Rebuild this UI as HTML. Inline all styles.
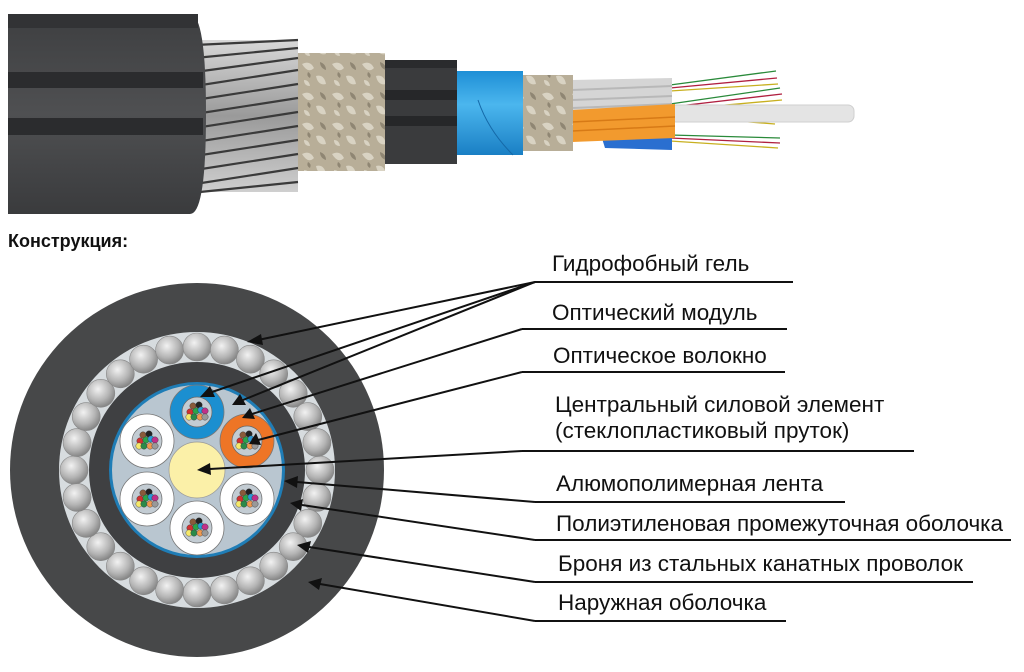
<!DOCTYPE html>
<html><head><meta charset="utf-8"><style>
html,body{margin:0;padding:0;background:#fff;width:1024px;height:672px;overflow:hidden}
svg{display:block}
text{font-family:"Liberation Sans","DejaVu Sans",sans-serif;fill:#111}
</style></head><body>
<svg width="1024" height="672" viewBox="0 0 1024 672" xmlns="http://www.w3.org/2000/svg">
<defs>
<radialGradient id="bead" cx="0.4" cy="0.35" r="0.7">
<stop offset="0" stop-color="#f2f2f2"/><stop offset="0.6" stop-color="#b4b4b4"/><stop offset="1" stop-color="#7d7d7d"/>
</radialGradient>
<linearGradient id="jack" x1="0" y1="0" x2="0" y2="1">
<stop offset="0" stop-color="#3e3f41"/><stop offset="0.5" stop-color="#4f5052"/><stop offset="1" stop-color="#3a3b3d"/>
</linearGradient>
<linearGradient id="wire" x1="0" y1="0" x2="0" y2="1">
<stop offset="0" stop-color="#d8d8d8"/><stop offset="0.5" stop-color="#9a9a9a"/><stop offset="1" stop-color="#cfcfcf"/>
</linearGradient>
<linearGradient id="blu" x1="0" y1="0" x2="0" y2="1">
<stop offset="0" stop-color="#1e8fd6"/><stop offset="0.4" stop-color="#4bb6ee"/><stop offset="1" stop-color="#1a7fc4"/>
</linearGradient>
<pattern id="camo" width="30" height="30" patternUnits="userSpaceOnUse">
<rect width="30" height="30" fill="#b8ae98"/>
<path d="M2 4 q8 -4 12 4 q-6 6 -12 -4z M16 16 q8 -2 10 8 q-8 2 -10 -8z M4 20 q5 0 6 6 q-6 0 -6 -6z" fill="#d9d3c3"/>
<path d="M20 2 q6 2 6 8 q-6 -2 -6 -8z M8 12 q4 2 2 6 q-4 -2 -2 -6z" fill="#8f8673"/>
</pattern>
<g id="fib" stroke="#333" stroke-width="0.4">
<circle cx="-4" cy="-6" r="3.2" fill="#8a5a3a"/><circle cx="2" cy="-7" r="3.2" fill="#222"/>
<circle cx="-7" cy="0" r="3.2" fill="#d23030"/><circle cx="-1" cy="-1" r="3.2" fill="#2aa54a"/>
<circle cx="4" cy="-2" r="3.2" fill="#2a9ad6"/><circle cx="8" cy="-1" r="3.2" fill="#c0308a"/>
<circle cx="-8" cy="5" r="3.2" fill="#f5e86a"/><circle cx="-3" cy="5" r="3.2" fill="#2a8a4a"/>
<circle cx="3" cy="5" r="3.2" fill="#f09a50"/><circle cx="8" cy="5" r="3.2" fill="#999"/>
</g>
</defs>

<!-- TOP CABLE -->
<g stroke-width="1.3" fill="none">
<line x1="670" y1="85" x2="776" y2="71" stroke="#2a8a3a"/>
<line x1="670" y1="88" x2="777" y2="78" stroke="#b02040"/>
<line x1="670" y1="91" x2="778" y2="84" stroke="#c8b020"/>
<line x1="670" y1="104" x2="780" y2="88" stroke="#2a8a3a"/>
<line x1="670" y1="107" x2="782" y2="94" stroke="#b02040"/>
<line x1="670" y1="110" x2="782" y2="100" stroke="#c8b020"/>
<line x1="700" y1="118" x2="775" y2="124" stroke="#c8b020"/>
<line x1="700" y1="116" x2="773" y2="120" stroke="#b02040"/>
<line x1="670" y1="135" x2="780" y2="138" stroke="#2a8a3a"/>
<line x1="670" y1="138" x2="780" y2="143" stroke="#b02040"/>
<line x1="670" y1="141" x2="778" y2="148" stroke="#c8b020"/>
</g>
<rect x="670" y="105" width="184" height="17" rx="6" fill="#e4e4e4" stroke="#cfcfcf"/>
<path d="M572 80 L672 78 L672 112 L572 114z" fill="#d5d5d5"/>
<path d="M572 90 L672 86 M572 100 L672 96 M572 108 L672 104" stroke="#b8b8b8" stroke-width="2"/>
<path d="M600 132 L672 128 L672 150 L605 148z" fill="#2a6fd0"/>
<path d="M572 110 L675 104 L675 138 L572 142z" fill="#f29a2e"/>
<path d="M572 122 L675 117 M572 131 L675 126" stroke="#d77a16" stroke-width="1.5"/>
<rect x="522" y="75" width="51" height="76" fill="url(#camo)"/>
<rect x="455" y="71" width="68" height="84" fill="url(#blu)"/>
<path d="M478 100 q10 30 35 55" stroke="#1569a8" stroke-width="1" fill="none"/>
<rect x="383" y="60" width="74" height="104" fill="#3a3b3d"/>
<rect x="383" y="60" width="74" height="8" fill="#2a2b2d"/>
<rect x="383" y="90" width="74" height="10" fill="#262729"/>
<rect x="383" y="116" width="74" height="10" fill="#262729"/>
<rect x="295" y="53" width="90" height="118" fill="url(#camo)"/>
<rect x="190" y="40" width="108" height="152" fill="url(#wire)"/>
<g stroke="#3a3a3a" stroke-width="2.2" fill="none">
<path d="M195 45 L298 40"/><path d="M195 58 L298 48"/><path d="M195 72 L298 58"/><path d="M195 86 L298 70"/>
<path d="M195 100 L298 84"/><path d="M195 114 L298 98"/><path d="M195 128 L298 112"/><path d="M195 142 L298 126"/>
<path d="M195 156 L298 140"/><path d="M195 170 L298 154"/><path d="M195 184 L298 168"/><path d="M200 192 L298 182"/>
</g>
<path d="M8 14 L190 14 Q206 14 206 114 Q206 214 190 214 L8 214 Z" fill="url(#jack)"/>
<rect x="8" y="14" width="190" height="14" fill="#323335"/>
<rect x="8" y="72" width="195" height="16" fill="#2b2c2e"/>
<rect x="8" y="118" width="195" height="17" fill="#2b2c2e"/>

<text x="8" y="247" font-size="18" font-weight="bold">Конструкция:</text>

<!-- CROSS SECTION -->
<circle cx="197" cy="470" r="187" fill="#474849"/>
<circle cx="197" cy="470" r="138" fill="#d7dcdf"/>
<g stroke="#888" stroke-width="0.6" fill="url(#bead)">
<circle cx="320.0" cy="470.0" r="14"/>
<circle cx="316.9" cy="497.4" r="14"/>
<circle cx="307.8" cy="523.4" r="14"/>
<circle cx="293.2" cy="546.7" r="14"/>
<circle cx="273.7" cy="566.2" r="14"/>
<circle cx="250.4" cy="580.8" r="14"/>
<circle cx="224.4" cy="589.9" r="14"/>
<circle cx="197.0" cy="593.0" r="14"/>
<circle cx="169.6" cy="589.9" r="14"/>
<circle cx="143.6" cy="580.8" r="14"/>
<circle cx="120.3" cy="566.2" r="14"/>
<circle cx="100.8" cy="546.7" r="14"/>
<circle cx="86.2" cy="523.4" r="14"/>
<circle cx="77.1" cy="497.4" r="14"/>
<circle cx="74.0" cy="470.0" r="14"/>
<circle cx="77.1" cy="442.6" r="14"/>
<circle cx="86.2" cy="416.6" r="14"/>
<circle cx="100.8" cy="393.3" r="14"/>
<circle cx="120.3" cy="373.8" r="14"/>
<circle cx="143.6" cy="359.2" r="14"/>
<circle cx="169.6" cy="350.1" r="14"/>
<circle cx="197.0" cy="347.0" r="14"/>
<circle cx="224.4" cy="350.1" r="14"/>
<circle cx="250.4" cy="359.2" r="14"/>
<circle cx="273.7" cy="373.8" r="14"/>
<circle cx="293.2" cy="393.3" r="14"/>
<circle cx="307.8" cy="416.6" r="14"/>
<circle cx="316.9" cy="442.6" r="14"/>
</g>
<circle cx="197" cy="470" r="108" fill="#3f4042"/>
<circle cx="197" cy="470" r="88" fill="#1f7db6"/>
<circle cx="197" cy="470" r="85" fill="#b9c6d0"/>
<circle cx="197" cy="470" r="28" fill="#fbf0a8" stroke="#999" stroke-width="0.7"/>
<g stroke="#777" stroke-width="0.8">
<circle cx="197" cy="412" r="27" fill="#1b8fd0"/>
<circle cx="247" cy="441" r="27" fill="#ee7526"/>
<circle cx="247" cy="499" r="27" fill="#fff"/>
<circle cx="197" cy="528" r="27" fill="#fff"/>
<circle cx="147" cy="499" r="27" fill="#fff"/>
<circle cx="147" cy="441" r="27" fill="#fff"/>
</g>
<g stroke="#666" stroke-width="0.7" fill="#c3ccd3">
<circle cx="197" cy="412" r="15"/><circle cx="247" cy="441" r="15"/><circle cx="247" cy="499" r="15"/>
<circle cx="197" cy="528" r="15"/><circle cx="147" cy="499" r="15"/><circle cx="147" cy="441" r="15"/>
</g>
<use href="#fib" x="197" y="412"/><use href="#fib" x="247" y="441"/><use href="#fib" x="247" y="499"/>
<use href="#fib" x="197" y="528"/><use href="#fib" x="147" y="499"/><use href="#fib" x="147" y="441"/>

<!-- LEADERS -->
<g stroke="#111" stroke-width="2" fill="none">
<path d="M535 282 L793 282"/><path d="M522 329 L787 329"/><path d="M522 372 L785 372"/>
<path d="M522 451 L914 451"/><path d="M535 502 L845 502"/><path d="M535 540 L1011 540"/>
<path d="M535 582 L973 582"/><path d="M535 621 L786 621"/>
<path d="M535 282 L258 340"/><path d="M535 282 L212 392"/><path d="M535 282 L243 400"/>
<path d="M522 329 L252 414"/><path d="M522 372 L258 440"/><path d="M522 451 L210 469"/>
<path d="M535 502 L297 482"/><path d="M535 540 L302 505"/><path d="M535 582 L309 547"/>
<path d="M535 621 L320 584"/>
</g>
<g fill="#111">
<polygon points="247,342 261,334 263,345"/>
<polygon points="200,397 210,386 215,397"/>
<polygon points="232,405 240,394 246,405"/>
<polygon points="242,418 250,408 255,419"/>
<polygon points="249,444 256,433 261,445"/>
<polygon points="197,470 210,463 211,475"/>
<polygon points="284,481 298,476 297,488"/>
<polygon points="290,503 303,499 301,511"/>
<polygon points="297,545 311,541 308,553"/>
<polygon points="308,582 322,578 319,590"/>
</g>

<g font-size="22.5">
<text x="552" y="271">Гидрофобный гель</text>
<text x="552" y="320">Оптический модуль</text>
<text x="553" y="363">Оптическое волокно</text>
<text x="555" y="412">Центральный силовой элемент</text>
<text x="555" y="438">(стеклопластиковый пруток)</text>
<text x="556" y="491">Алюмополимерная лента</text>
<text x="556" y="531">Полиэтиленовая промежуточная оболочка</text>
<text x="558" y="571">Броня из стальных канатных проволок</text>
<text x="558" y="610">Наружная оболочка</text>
</g>
</svg>
</body></html>
